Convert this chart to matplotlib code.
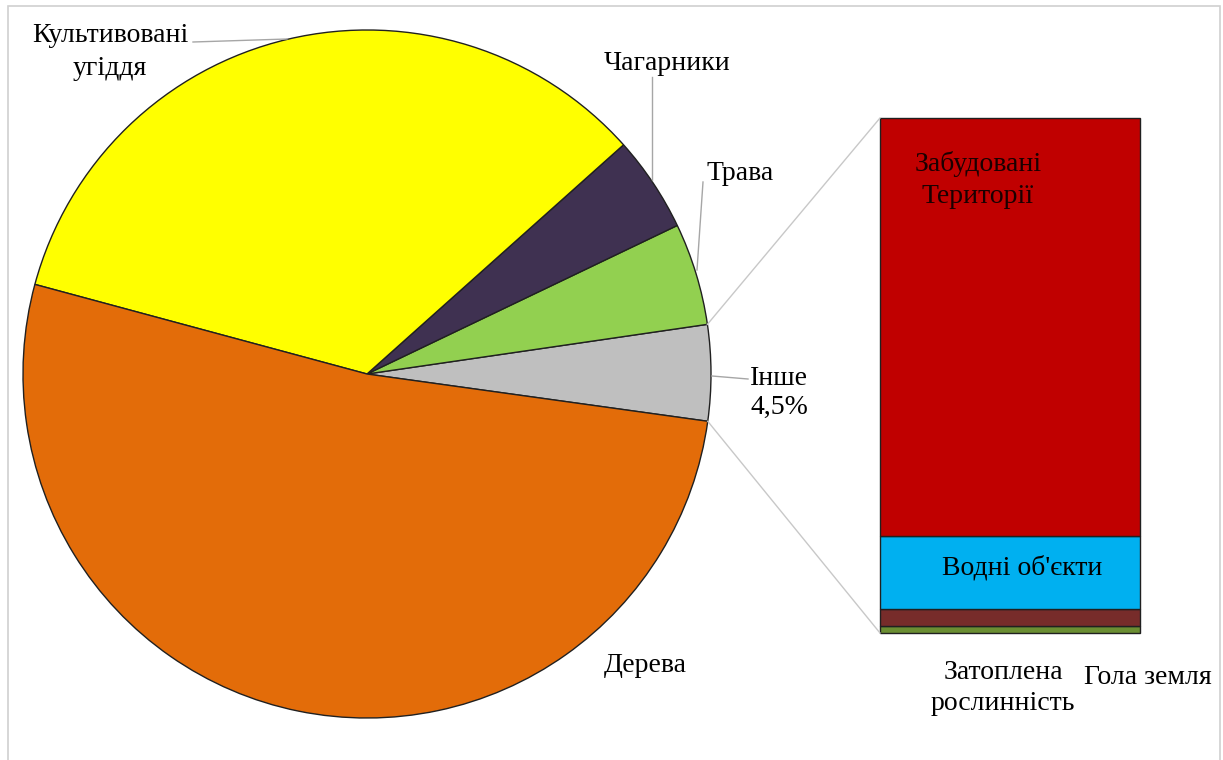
import matplotlib
matplotlib.use('Agg')
import numpy as np
import matplotlib.pyplot as plt
from matplotlib.patches import Rectangle

# main pie: shares of the whole area, %
pie_labels = ["Інше", "Трава", "Чагарники", "Культивовані угіддя", "Дерева"]
pie_values = [4.5, 4.8, 4.5, 34.2, 52.0]
pie_colors = ["#BFBFBF", "#92D050", "#3F3151", "#FFFF00", "#E36C09"]

# breakdown of "Інше", % of that slice (bottom to top)
bar_labels = ["Гола земля", "Затоплена рослинність", "Водні об'єкти", "Забудовані Території"]
bar_values = [1.4, 3.3, 14.1, 81.2]
bar_colors = ["#6B8E32", "#772C2A", "#00B0F0", "#C00000"]

W, H = 1223, 760
FONT = 'Liberation Serif'
FS = 20

def py(y):
    # pixel row -> data y
    return H - y

fig = plt.figure(figsize=(W / 100, H / 100), dpi=100)
ax = fig.add_axes([0, 0, 1, 1])

# outer frame
ax.add_patch(Rectangle((8, -10), 1212, py(6) + 10, fill=False, ec='#D0D0D0', lw=1.2))

cx, cy, r = 367, py(374), 344
start = -7.9
wedges, _ = ax.pie(pie_values, colors=pie_colors, startangle=start, counterclock=True,
                   center=(cx, cy), radius=r, frame=True,
                   wedgeprops=dict(edgecolor='#202020', linewidth=1.0))
ax.set_xlim(0, W)
ax.set_ylim(0, H)
ax.set_aspect('equal')
ax.axis('off')

# stacked bar for "Інше"
bx, bw = 880, 260
btop, bbot = py(118), py(633)
scale = (btop - bbot) / sum(bar_values)
bottom = bbot
for v, c in zip(bar_values, bar_colors):
    ax.bar(bx + bw / 2, v * scale, width=bw, bottom=bottom, color=c,
           edgecolor='#202020', linewidth=1.0)
    bottom += v * scale

# connector lines from the "Інше" slice to the bar
w0 = wedges[0]
for ang, yb in [(w0.theta2, btop), (w0.theta1, bbot)]:
    a = np.deg2rad(ang)
    ax.plot([cx + r * np.cos(a), bx], [cy + r * np.sin(a), yb], color='#C8C8C8', lw=1)

# leader lines
lc = '#A6A6A6'
ax.plot([193, 287], [py(42), py(39)], color=lc, lw=1)
ax.plot([652, 652], [py(77), py(180)], color=lc, lw=1)
ax.plot([703, 697], [py(182), py(270)], color=lc, lw=1)
ax.plot([712, 748], [py(376), py(379)], color=lc, lw=1)

# labels
def txt(x, y, s, ls=1.4, **kw):
    ax.text(x, py(y), s, fontsize=FS, family=FONT, ha='center', va='center',
            linespacing=ls, **kw)

txt(110, 52, "Культивовані\nугіддя")
txt(667, 63, "Чагарники")
txt(740, 173, "Трава")
txt(779, 393, "Інше\n4,5%", ls=1.25)
txt(645, 665, "Дерева")
txt(978, 180, "Забудовані\nТериторії", color='#1a0000')
txt(1022, 568, "Водні об'єкти")
txt(1003, 688, "Затоплена\nрослинність", ls=1.3)
txt(1148, 677, "Гола земля")

plt.savefig('out.png', dpi=100)
plt.close()
